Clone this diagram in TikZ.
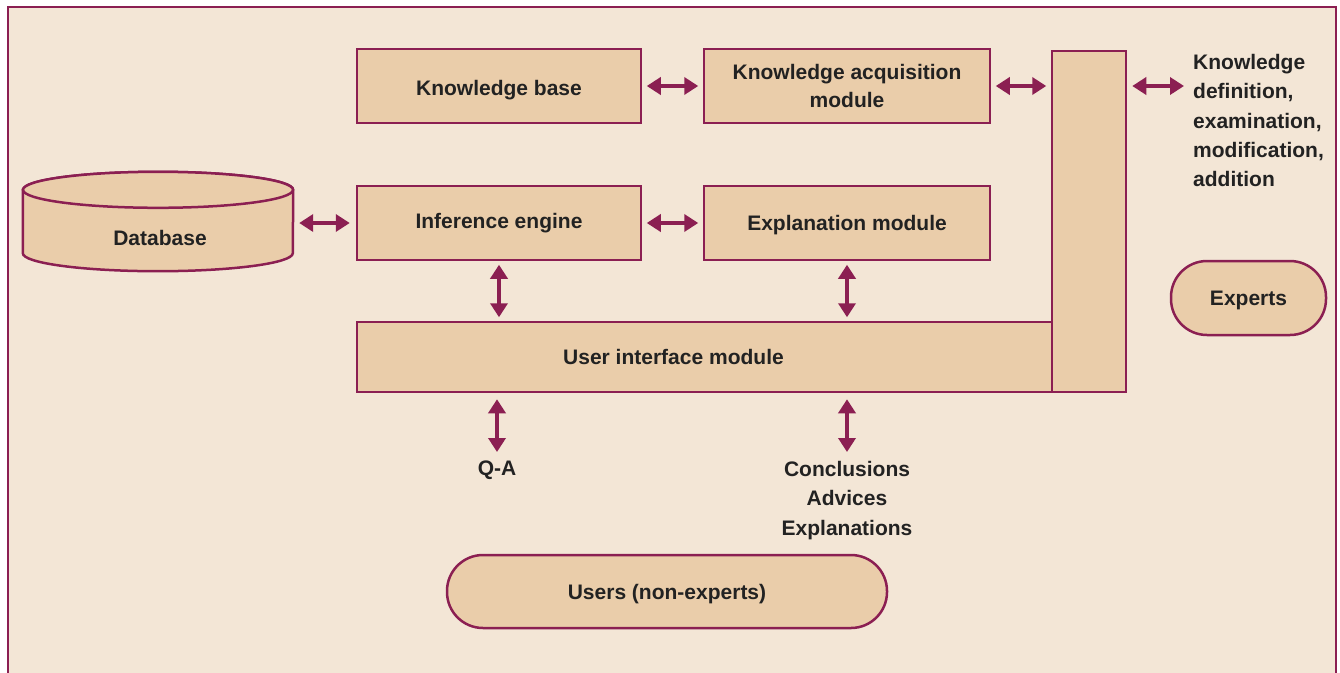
\documentclass[tikz,border=0pt]{standalone}
\usepackage{fontspec}
\setmainfont{Liberation Sans}
\usetikzlibrary{arrows.meta,calc}
\definecolor{edge}{RGB}{139,31,82}
\definecolor{boxfill}{RGB}{234,205,170}
\definecolor{bg}{RGB}{243,230,214}
\definecolor{ink}{RGB}{34,34,34}
\tikzset{
  txt/.style={font=\bfseries\fontsize{21}{29.5}\selectfont, text=ink},
  boxbase/.style={draw=edge, fill=boxfill, line width=2.5pt, inner sep=0pt, txt, align=center},
  module/.style={boxbase, text height=15pt, text depth=0pt},
  lbl/.style={inner sep=0pt, txt},
  biarrow/.style={draw=edge, line width=3.5pt, {Triangle[length=14pt,width=17pt]}-{Triangle[length=14pt,width=17pt]}},
}
\begin{document}
\begin{tikzpicture}[x=1pt,y=-1pt]
\useasboundingbox (0,0) rectangle (1340,672);
\clip (0,0) rectangle (1340,672);
\fill[white] (0,0) rectangle (1340,672);
\draw[edge, line width=2pt, fill=bg] (8,700) -- (8,7) -- (1336,7) -- (1336,700) -- cycle;

% modules
\node[module, minimum width=284, minimum height=74, text height=19pt] (kb) at (499,86) {Knowledge base};
\node[boxbase, minimum width=286, minimum height=74, font=\bfseries\fontsize{21}{28}\selectfont] (ka) at (847,86) {Knowledge acquisition\\module};
\node[module, minimum width=284, minimum height=74, text depth=4pt] (ie) at (499,223) {Inference engine};
\node[module, minimum width=286, minimum height=74] (em) at (847,223) {Explanation module};
\node[module, minimum width=695, minimum height=70] (ui) at (704.5,357) {\hspace*{-62pt}User interface module};
\node[module, minimum width=74, minimum height=341] (col) at (1089,221.5) {};

% database cylinder
\node[inner sep=0pt, minimum width=270, minimum height=99] (db) at (158,221.5) {};
\filldraw[draw=edge, fill=boxfill, line width=2.5pt]
  (db.north west) ++(0,18) -- ($(db.south west)+(0,-18)$)
  arc[start angle=180, end angle=360, x radius=135, y radius=-18]
  -- ($(db.north east)+(0,18)$)
  arc[start angle=0, end angle=180, x radius=135, y radius=-18] -- cycle;
\filldraw[draw=edge, fill=boxfill, line width=2.5pt]
  ($(db.north)+(0,18)$) ellipse[x radius=135, y radius=18];
\node[lbl, text height=15pt, text depth=0pt] (dbl) at ($(db.center)+(2,16)$) {Database};

% ovals
\node[module, rounded corners=36pt, minimum width=155, minimum height=74] (exp) at (1248.5,298) {Experts};
\node[module, rounded corners=36pt, minimum width=440, minimum height=73] (usr) at (667,591.5) {Users (non-experts)};

% labels
\node[lbl, anchor=north] (qa) at (497,461) {Q-A};
\node[lbl, anchor=north, align=center] (con) at (847,461) {Conclusions\\Advices\\Explanations};
\node[lbl, anchor=north west, align=left, font=\bfseries\fontsize{21}{29.3}\selectfont] (kd) at (1193,54) {Knowledge\\definition,\\examination,\\modification,\\addition};

% arrows
\draw[biarrow, shorten <=4.5pt, shorten >=4.5pt] (kb.east) -- (ka.west);
\draw[biarrow, shorten <=4.5pt, shorten >=4.5pt] (ka.east) -- (ka.east -| col.west);
\draw[biarrow, shorten <=5pt, shorten >=9pt] (ka.east -| col.east) -- (ka.east -| kd.west);
\draw[biarrow, shorten <=6pt, shorten >=6pt] (db.east |- ie.west) -- (ie.west);
\draw[biarrow, shorten <=4.5pt, shorten >=4.5pt] (ie.east) -- (em.west);
\draw[biarrow, shorten <=3.5pt, shorten >=3.5pt] (ie.south) -- (ie.south |- ui.north);
\draw[biarrow, shorten <=3.5pt, shorten >=3.5pt] (em.south) -- (em.south |- ui.north);
\draw[biarrow, shorten <=6pt, shorten >=9pt] (ui.south -| qa.north) -- (qa.north);
\draw[biarrow, shorten <=6pt, shorten >=9pt] (ui.south -| con.north) -- (con.north);
\end{tikzpicture}
\end{document}
